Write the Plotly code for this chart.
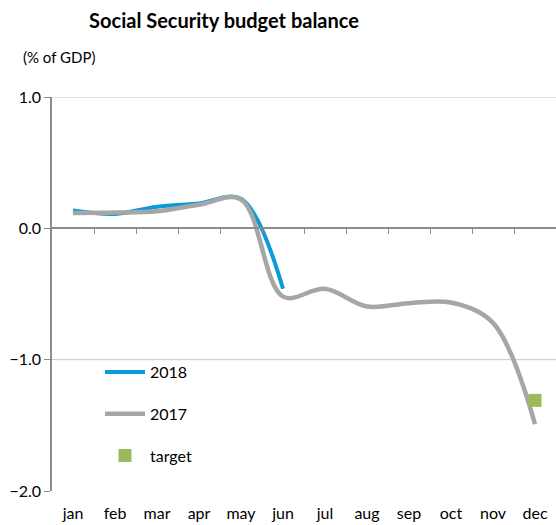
import plotly.graph_objects as go

months = ["jan", "feb", "mar", "apr", "may", "jun", "jul", "aug", "sep", "oct", "nov", "dec"]
bal_2018 = [0.135, 0.11, 0.165, 0.19, 0.225, -0.46]
bal_2017 = [0.117, 0.12, 0.13, 0.18, 0.22, -0.52, -0.46, -0.595, -0.57, -0.565, -0.72, -1.49]
target_month = ["dec"]
target_val = [-1.31]
y_ticks = [1.0, 0.0, -1.0, -2.0]
grid_vals = [1.0, -1.0]

FONT = "Lato"
AXIS_GRAY = "#8C8C8C"
GRID_GRAY = "#C8C8C8"

fig = go.Figure()
fig.add_trace(go.Scatter(
    x=months[:len(bal_2018)], y=bal_2018, name="2018", mode="lines",
    line=dict(color="#0A9BD8", width=4, shape="spline", smoothing=1),
    legendgroup="a", hoverinfo="skip"))
fig.add_trace(go.Scatter(
    x=months, y=bal_2017, name="2017", mode="lines",
    line=dict(color="#A6A6A6", width=4.5, shape="spline", smoothing=1),
    legendgroup="b", hoverinfo="skip"))
fig.add_trace(go.Scatter(
    x=target_month, y=target_val, name="target", mode="markers",
    marker=dict(symbol="square", size=13, color="#9BBB59"),
    legendgroup="c", hoverinfo="skip"))
# empty trace to host the tick axis drawn at y = 0
fig.add_trace(go.Scatter(x=[], y=[], xaxis="x2", showlegend=False, hoverinfo="skip"))

n = len(months)
fig.update_layout(
    width=556, height=525,
    margin=dict(l=52, r=0, t=97, b=34),
    paper_bgcolor="white", plot_bgcolor="white",
    font=dict(family=FONT, size=16, color="#000000"),
    title=dict(text="<b>Social Security budget balance</b>", xref="container", yref="container",
               x=224 / 556, xanchor="center", y=1 - 21 / 525, yanchor="middle",
               font=dict(family=FONT, size=20, color="#000000")),
    xaxis=dict(type="category", categoryorder="array", categoryarray=months,
               range=[-0.5, n - 0.5], showline=False, ticks="", showgrid=False,
               zeroline=False, ticklabelstandoff=11,
               tickfont=dict(family=FONT, size=16)),
    xaxis2=dict(overlaying="x", anchor="free", position=2 / 3, side="bottom",
                range=[-0.5, n - 0.5], tickvals=[i + 0.5 for i in range(n - 1)],
                ticks="outside", ticklen=5, tickcolor=AXIS_GRAY, tickwidth=1,
                showline=True, linecolor=AXIS_GRAY, linewidth=1.5,
                showticklabels=False, showgrid=False, zeroline=False),
    yaxis=dict(range=[-2.0, 1.0], tickvals=y_ticks, tickformat=".1f",
               showline=True, linecolor=AXIS_GRAY, linewidth=1.5,
               ticks="outside", ticklen=6, tickcolor=AXIS_GRAY,
               showgrid=False, zeroline=False,
               tickfont=dict(family=FONT, size=16)),
    legend=dict(x=(100 - 52) / 504, y=(491 - 355) / 394, xanchor="left", yanchor="top",
                bgcolor="rgba(0,0,0,0)", tracegroupgap=18, itemwidth=40,
                font=dict(family=FONT, size=16)),
    showlegend=True,
    annotations=[dict(text="(% of GDP)", xref="paper", yref="paper",
                      x=(21 - 52) / 504, y=(491 - 57) / 394, xanchor="left", yanchor="middle",
                      showarrow=False, font=dict(family=FONT, size=15))],
    shapes=[dict(type="line", xref="paper", yref="y", x0=0, x1=1, y0=g, y1=g,
                 line=dict(color=GRID_GRAY, width=1), layer="below") for g in grid_vals],
)

fig.write_html("out.html")
